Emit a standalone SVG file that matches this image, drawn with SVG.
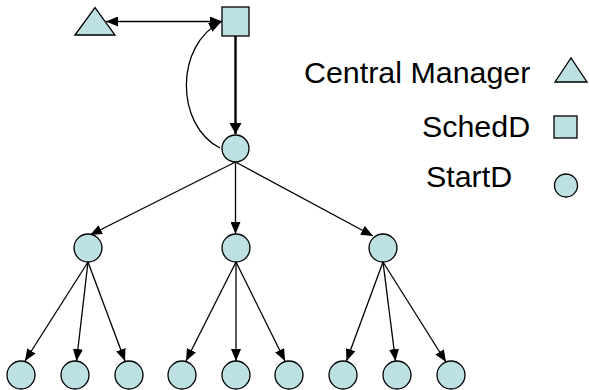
<svg xmlns="http://www.w3.org/2000/svg" width="589" height="390" viewBox="0 0 589 390">
  <style>
    .node { fill: #bde0e3; stroke: #000; stroke-width: 1.3; }
    .edge { fill: none; stroke: #000; stroke-width: 1.3; }
    .thick { fill: none; stroke: #000; stroke-width: 2.4; }
    .label { font-family: "Liberation Sans", Arial, sans-serif; font-size: 30.4px; fill: #000; }
  </style>
  <defs>
    <marker id="arrow" markerUnits="userSpaceOnUse" markerWidth="12" markerHeight="10" refX="12" refY="5" orient="auto-start-reverse">
      <path d="M0,0 L12,5 L0,10 z" fill="#000"/>
    </marker>
    <marker id="arrowBig" markerUnits="userSpaceOnUse" markerWidth="11" markerHeight="12" refX="11" refY="6" orient="auto">
      <path d="M0,0 L11,6 L0,12 z" fill="#000"/>
    </marker>
  </defs>

  <!-- connectors -->
  <g id="connectors">
    <line class="edge" x1="106" y1="21.5" x2="222" y2="21.5" marker-start="url(#arrow)" marker-end="url(#arrow)"/>
    <line class="thick" x1="235.5" y1="36" x2="235.5" y2="134" marker-end="url(#arrowBig)"/>
    <path class="edge" d="M220,148 C175,125 175,45 221,22" marker-end="url(#arrow)"/>
    <!-- root to second level -->
    <line class="edge" x1="235.5" y1="162" x2="90" y2="235" marker-end="url(#arrow)"/>
    <line class="edge" x1="235.5" y1="162" x2="235.5" y2="234" marker-end="url(#arrow)"/>
    <line class="edge" x1="235.5" y1="162" x2="373" y2="236" marker-end="url(#arrow)"/>
    <!-- left subtree -->
    <line class="edge" x1="88" y1="262" x2="25" y2="361" marker-end="url(#arrow)"/>
    <line class="edge" x1="88" y1="262" x2="76.5" y2="361" marker-end="url(#arrow)"/>
    <line class="edge" x1="88" y1="262" x2="125" y2="361" marker-end="url(#arrow)"/>
    <!-- middle subtree -->
    <line class="edge" x1="236" y1="262" x2="186" y2="361" marker-end="url(#arrow)"/>
    <line class="edge" x1="236" y1="262" x2="236" y2="361" marker-end="url(#arrow)"/>
    <line class="edge" x1="236" y1="262" x2="285" y2="361" marker-end="url(#arrow)"/>
    <!-- right subtree -->
    <line class="edge" x1="383" y1="262" x2="346.5" y2="361" marker-end="url(#arrow)"/>
    <line class="edge" x1="383" y1="262" x2="395.5" y2="361" marker-end="url(#arrow)"/>
    <line class="edge" x1="383" y1="262" x2="446" y2="362" marker-end="url(#arrow)"/>
  </g>

  <!-- top nodes -->
  <g id="central-manager"><polygon class="node" points="75,35 95,7.5 115,35"/></g>
  <g id="schedd"><rect class="node" x="222" y="7" width="27" height="29"/></g>
  <g id="startd-root"><circle class="node" cx="235.5" cy="148.5" r="13.5"/></g>

  <!-- second level -->
  <g id="startd-l1"><circle class="node" cx="88" cy="248" r="14"/></g>
  <g id="startd-m1"><circle class="node" cx="236" cy="248" r="14"/></g>
  <g id="startd-r1"><circle class="node" cx="383" cy="248" r="14"/></g>

  <!-- leaves -->
  <g id="startd-l2a"><circle class="node" cx="21" cy="375" r="14"/></g>
  <g id="startd-l2b"><circle class="node" cx="75" cy="375" r="14"/></g>
  <g id="startd-l2c"><circle class="node" cx="129" cy="375" r="14"/></g>
  <g id="startd-m2a"><circle class="node" cx="182" cy="375" r="14"/></g>
  <g id="startd-m2b"><circle class="node" cx="236" cy="375" r="14"/></g>
  <g id="startd-m2c"><circle class="node" cx="289" cy="375" r="14"/></g>
  <g id="startd-r2a"><circle class="node" cx="343" cy="375" r="14"/></g>
  <g id="startd-r2b"><circle class="node" cx="397" cy="375" r="14"/></g>
  <g id="startd-r2c"><circle class="node" cx="451" cy="375" r="14"/></g>

  <!-- legend -->
  <g id="legend">
    <text class="label" x="304" y="83">Central Manager</text>
    <polygon class="node" points="555,82 571,58 587,82"/>
    <text class="label" x="422" y="137">SchedD</text>
    <rect class="node" x="554" y="116" width="23" height="22"/>
    <text class="label" x="426" y="187">StartD</text>
    <circle class="node" cx="566" cy="185.5" r="11.5"/>
  </g>
</svg>
